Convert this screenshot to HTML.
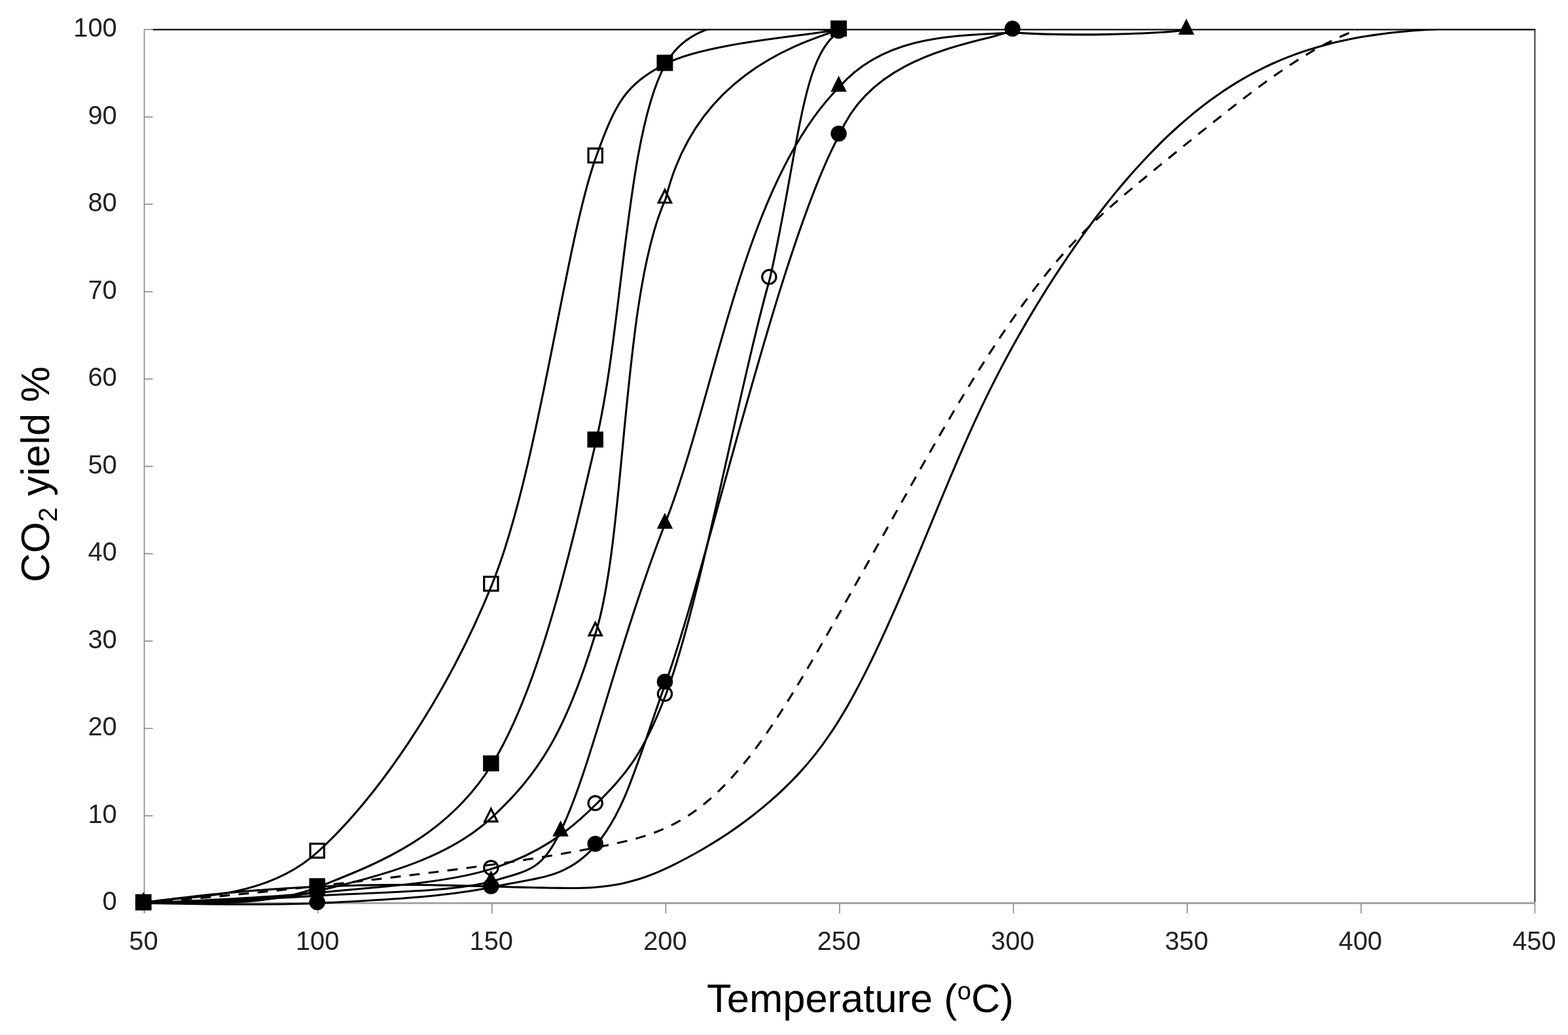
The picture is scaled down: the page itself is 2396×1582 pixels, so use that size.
<!DOCTYPE html>
<html lang="en"><head><meta charset="utf-8"><title>CO2 yield vs temperature</title>
<style>html,body{margin:0;padding:0;background:#fff;}body{width:2396px;height:1582px;overflow:hidden;}svg{display:block;}text{font-family:"Liberation Sans",sans-serif;}.tk{font-size:39.80px;fill:#222;}.ti{font-size:61.50px;fill:#000;}</style></head><body>
<svg xmlns="http://www.w3.org/2000/svg" width="2396" height="1582" viewBox="0 0 2396 1582">
<rect width="2396" height="1582" fill="#fff"/>
<defs><clipPath id="pa"><rect x="190.50" y="43.90" width="2184.90" height="1376.60"/></clipPath></defs>
<g><line x1="219.70" y1="1380.50" x2="2345.90" y2="1380.50" stroke="#a6a6a6" stroke-width="3.20"/><line x1="220.50" y1="44.20" x2="220.50" y2="1396.00" stroke="#868686" stroke-width="1.60"/><line x1="220.50" y1="1380.50" x2="233.50" y2="1380.50" stroke="#868686" stroke-width="1.60"/><line x1="220.50" y1="1246.97" x2="233.50" y2="1246.97" stroke="#868686" stroke-width="1.60"/><line x1="220.50" y1="1113.44" x2="233.50" y2="1113.44" stroke="#868686" stroke-width="1.60"/><line x1="220.50" y1="979.91" x2="233.50" y2="979.91" stroke="#868686" stroke-width="1.60"/><line x1="220.50" y1="846.38" x2="233.50" y2="846.38" stroke="#868686" stroke-width="1.60"/><line x1="220.50" y1="712.85" x2="233.50" y2="712.85" stroke="#868686" stroke-width="1.60"/><line x1="220.50" y1="579.32" x2="233.50" y2="579.32" stroke="#868686" stroke-width="1.60"/><line x1="220.50" y1="445.79" x2="233.50" y2="445.79" stroke="#868686" stroke-width="1.60"/><line x1="220.50" y1="312.26" x2="233.50" y2="312.26" stroke="#868686" stroke-width="1.60"/><line x1="220.50" y1="178.73" x2="233.50" y2="178.73" stroke="#868686" stroke-width="1.60"/><line x1="220.50" y1="45.20" x2="233.50" y2="45.20" stroke="#868686" stroke-width="1.60"/><line x1="220.50" y1="1380.50" x2="220.50" y2="1396.00" stroke="#868686" stroke-width="1.60"/><line x1="486.11" y1="1380.50" x2="486.11" y2="1396.00" stroke="#868686" stroke-width="1.60"/><line x1="751.73" y1="1380.50" x2="751.73" y2="1396.00" stroke="#868686" stroke-width="1.60"/><line x1="1017.34" y1="1380.50" x2="1017.34" y2="1396.00" stroke="#868686" stroke-width="1.60"/><line x1="1282.95" y1="1380.50" x2="1282.95" y2="1396.00" stroke="#868686" stroke-width="1.60"/><line x1="1548.56" y1="1380.50" x2="1548.56" y2="1396.00" stroke="#868686" stroke-width="1.60"/><line x1="1814.18" y1="1380.50" x2="1814.18" y2="1396.00" stroke="#868686" stroke-width="1.60"/><line x1="2079.79" y1="1380.50" x2="2079.79" y2="1396.00" stroke="#868686" stroke-width="1.60"/><line x1="2345.40" y1="1380.50" x2="2345.40" y2="1396.00" stroke="#868686" stroke-width="1.60"/><line x1="233.50" y1="45.20" x2="2346.30" y2="45.20" stroke="#222" stroke-width="2.40"/><line x1="2345.40" y1="45.20" x2="2345.40" y2="1378.90" stroke="#222" stroke-width="1.80"/></g>
<g fill="none" stroke="#000" stroke-width="3.10" stroke-linecap="butt" stroke-linejoin="round" clip-path="url(#pa)">
<path d="M219.10,1380.03 C224.43,1379.27 229.75,1378.52 235.08,1377.80 C240.40,1377.07 245.73,1376.36 251.05,1375.66 C256.38,1374.97 261.70,1374.29 267.03,1373.62 C272.35,1372.96 277.68,1372.32 283.00,1371.69 C288.33,1371.06 293.65,1370.44 298.98,1369.85 C304.31,1369.25 309.63,1368.67 314.96,1368.10 C320.28,1367.53 325.61,1366.99 330.93,1366.45 C336.26,1365.92 341.58,1365.40 346.91,1364.90 C352.23,1364.40 357.56,1363.91 362.88,1363.44 C368.21,1362.97 373.53,1362.51 378.86,1362.07 C384.18,1361.63 389.51,1361.21 394.84,1360.80 C400.16,1360.39 405.49,1360.00 410.81,1359.62 C416.14,1359.25 421.46,1358.89 426.79,1358.54 C432.11,1358.19 437.44,1357.86 442.76,1357.55 C448.09,1357.23 453.41,1356.93 458.74,1356.64 C464.06,1356.36 469.39,1356.09 474.72,1355.83 C480.04,1355.57 485.37,1355.33 490.69,1355.11 C496.02,1354.88 501.34,1354.67 506.67,1354.47 C511.99,1354.28 517.32,1354.10 522.64,1353.93 C527.97,1353.76 533.29,1353.61 538.62,1353.48 C543.94,1353.34 549.27,1353.22 554.59,1353.11 C559.92,1353.00 565.25,1352.91 570.57,1352.83 C575.90,1352.75 581.22,1352.68 586.55,1352.63 C591.87,1352.58 597.20,1352.54 602.52,1352.52 C607.85,1352.50 613.17,1352.49 618.50,1352.50 C623.82,1352.50 629.15,1352.53 634.47,1352.56 C639.80,1352.59 645.13,1352.64 650.45,1352.70 C655.78,1352.77 661.10,1352.84 666.43,1352.93 C671.75,1353.02 677.08,1353.12 682.40,1353.23 C687.73,1353.34 693.05,1353.45 698.38,1353.58 C703.70,1353.71 709.03,1353.84 714.35,1353.98 C719.68,1354.12 725.00,1354.26 730.33,1354.41 C735.66,1354.55 740.98,1354.70 746.31,1354.85 C751.63,1355.00 756.96,1355.16 762.28,1355.31 C767.61,1355.46 772.93,1355.60 778.26,1355.75 C783.58,1355.89 788.91,1356.04 794.23,1356.17 C799.56,1356.31 804.88,1356.44 810.21,1356.56 C815.54,1356.68 820.86,1356.80 826.19,1356.90 C831.51,1357.01 836.84,1357.10 842.16,1357.18 C847.49,1357.27 852.81,1357.34 858.14,1357.39 C863.46,1357.45 868.79,1357.48 874.11,1357.46 C879.44,1357.45 884.76,1357.38 890.09,1357.22 C895.41,1357.07 900.74,1356.84 906.07,1356.49 C911.39,1356.14 916.72,1355.67 922.04,1355.06 C927.37,1354.45 932.69,1353.70 938.02,1352.80 C943.34,1351.91 948.67,1350.86 953.99,1349.66 C959.32,1348.45 964.64,1347.09 969.97,1345.57 C975.29,1344.04 980.62,1342.35 985.95,1340.49 C991.27,1338.63 996.60,1336.60 1001.92,1334.39 C1007.25,1332.19 1012.57,1329.82 1017.90,1327.34 C1023.22,1324.85 1028.55,1322.24 1033.87,1319.55 C1039.20,1316.86 1044.52,1314.09 1049.85,1311.25 C1055.17,1308.41 1060.50,1305.50 1065.82,1302.50 C1071.15,1299.50 1076.48,1296.42 1081.80,1293.24 C1087.13,1290.06 1092.45,1286.79 1097.78,1283.42 C1103.10,1280.05 1108.43,1276.57 1113.75,1272.98 C1119.08,1269.39 1124.40,1265.69 1129.73,1261.87 C1135.05,1258.05 1140.38,1254.10 1145.70,1250.03 C1151.03,1245.95 1156.36,1241.74 1161.68,1237.39 C1167.01,1233.04 1172.33,1228.55 1177.66,1223.91 C1182.98,1219.27 1188.31,1214.49 1193.63,1209.50 C1198.96,1204.52 1204.28,1199.34 1209.61,1193.92 C1214.93,1188.50 1220.26,1182.84 1225.58,1176.89 C1230.91,1170.94 1236.23,1164.70 1241.56,1158.13 C1246.89,1151.55 1252.21,1144.64 1257.54,1137.35 C1262.86,1130.06 1268.19,1122.38 1273.51,1114.28 C1278.84,1106.18 1284.16,1097.63 1289.49,1088.64 C1294.81,1079.65 1300.14,1070.23 1305.46,1060.41 C1310.79,1050.60 1316.11,1040.40 1321.44,1029.86 C1326.77,1019.31 1332.09,1008.43 1337.42,997.25 C1342.74,986.08 1348.07,974.61 1353.39,962.89 C1358.72,951.18 1364.04,939.22 1369.37,927.06 C1374.69,914.90 1380.02,902.54 1385.34,890.03 C1390.67,877.52 1395.99,864.85 1401.32,852.08 C1406.64,839.32 1411.97,826.45 1417.30,813.55 C1422.62,800.66 1427.95,787.74 1433.27,774.87 C1438.60,762.00 1443.92,749.19 1449.25,736.50 C1454.57,723.81 1459.90,711.26 1465.22,698.90 C1470.55,686.55 1475.87,674.40 1481.20,662.54 C1486.52,650.67 1491.85,639.11 1497.18,627.84 C1502.50,616.58 1507.83,605.61 1513.15,594.92 C1518.48,584.22 1523.80,573.80 1529.13,563.62 C1534.45,553.44 1539.78,543.52 1545.10,533.81 C1550.43,524.11 1555.75,514.63 1561.08,505.36 C1566.40,496.08 1571.73,487.01 1577.05,478.11 C1582.38,469.21 1587.71,460.49 1593.03,451.93 C1598.36,443.36 1603.68,434.95 1609.01,426.69 C1614.33,418.43 1619.66,410.32 1624.98,402.36 C1630.31,394.40 1635.63,386.59 1640.96,378.93 C1646.28,371.27 1651.61,363.76 1656.93,356.40 C1662.26,349.04 1667.59,341.82 1672.91,334.76 C1678.24,327.69 1683.56,320.77 1688.89,314.00 C1694.21,307.23 1699.54,300.61 1704.86,294.13 C1710.19,287.65 1715.51,281.31 1720.84,275.12 C1726.16,268.94 1731.49,262.89 1736.81,256.99 C1742.14,251.09 1747.46,245.33 1752.79,239.72 C1758.12,234.10 1763.44,228.63 1768.77,223.30 C1774.09,217.97 1779.42,212.78 1784.74,207.74 C1790.07,202.69 1795.39,197.78 1800.72,193.02 C1806.04,188.25 1811.37,183.62 1816.69,179.13 C1822.02,174.65 1827.34,170.30 1832.67,166.08 C1838.00,161.87 1843.32,157.80 1848.65,153.86 C1853.97,149.93 1859.30,146.13 1864.62,142.46 C1869.95,138.80 1875.27,135.27 1880.60,131.88 C1885.92,128.48 1891.25,125.23 1896.57,122.10 C1901.90,118.97 1907.22,115.97 1912.55,113.10 C1917.87,110.22 1923.20,107.47 1928.53,104.84 C1933.85,102.20 1939.18,99.69 1944.50,97.28 C1949.83,94.88 1955.15,92.59 1960.48,90.40 C1965.80,88.22 1971.13,86.14 1976.45,84.16 C1981.78,82.18 1987.10,80.30 1992.43,78.52 C1997.75,76.73 2003.08,75.04 2008.41,73.44 C2013.73,71.84 2019.06,70.32 2024.38,68.89 C2029.71,67.46 2035.03,66.11 2040.36,64.84 C2045.68,63.57 2051.01,62.38 2056.33,61.25 C2061.66,60.13 2066.98,59.08 2072.31,58.09 C2077.63,57.10 2082.96,56.18 2088.28,55.32 C2093.61,54.45 2098.94,53.65 2104.26,52.90 C2109.59,52.15 2114.91,51.45 2120.24,50.80 C2125.56,50.16 2130.89,49.56 2136.21,49.01 C2141.54,48.46 2146.86,47.96 2152.19,47.50 C2157.51,47.04 2162.84,46.62 2168.16,46.25 C2173.49,45.87 2178.82,45.53 2184.14,45.24 C2189.47,44.94 2194.79,44.67 2200.12,44.45 C2205.44,44.22 2210.77,44.02 2216.09,43.86 C2221.42,43.69 2226.74,43.56 2232.07,43.45 C2237.39,43.35 2242.72,43.27 2248.04,43.21 C2253.37,43.15 2258.69,43.12 2264.02,43.11 C2269.35,43.09 2274.67,43.10 2280.00,43.12 C2285.32,43.15 2290.65,43.19 2295.97,43.24 C2301.30,43.30 2306.62,43.37 2311.95,43.45 C2317.27,43.53 2322.60,43.61 2327.92,43.71 C2333.25,43.81 2338.57,43.91 2343.90,44.02"/>
<path d="M219.10,1379.99 C224.43,1379.57 229.77,1379.15 235.10,1378.72 C240.43,1378.29 245.77,1377.85 251.10,1377.40 C256.43,1376.96 261.76,1376.51 267.10,1376.06 C272.43,1375.60 277.76,1375.14 283.10,1374.67 C288.43,1374.20 293.76,1373.72 299.10,1373.24 C304.43,1372.76 309.76,1372.28 315.09,1371.78 C320.43,1371.29 325.76,1370.79 331.09,1370.29 C336.43,1369.79 341.76,1369.28 347.09,1368.76 C352.43,1368.25 357.76,1367.73 363.09,1367.20 C368.43,1366.68 373.76,1366.15 379.09,1365.61 C384.42,1365.08 389.76,1364.54 395.09,1363.99 C400.42,1363.44 405.76,1362.89 411.09,1362.34 C416.42,1361.78 421.76,1361.22 427.09,1360.66 C432.42,1360.09 437.75,1359.52 443.09,1358.95 C448.42,1358.38 453.75,1357.80 459.09,1357.22 C464.42,1356.64 469.75,1356.05 475.09,1355.46 C480.42,1354.87 485.75,1354.27 491.09,1353.68 C496.42,1353.08 501.75,1352.47 507.08,1351.87 C512.42,1351.26 517.75,1350.65 523.08,1350.04 C528.42,1349.43 533.75,1348.81 539.08,1348.19 C544.42,1347.57 549.75,1346.95 555.08,1346.32 C560.41,1345.69 565.75,1345.06 571.08,1344.43 C576.41,1343.80 581.75,1343.16 587.08,1342.52 C592.41,1341.88 597.75,1341.24 603.08,1340.60 C608.41,1339.95 613.75,1339.30 619.08,1338.65 C624.41,1338.00 629.74,1337.35 635.08,1336.70 C640.41,1336.04 645.74,1335.38 651.08,1334.72 C656.41,1334.06 661.74,1333.40 667.08,1332.73 C672.41,1332.06 677.74,1331.39 683.08,1330.71 C688.41,1330.03 693.74,1329.35 699.07,1328.65 C704.41,1327.96 709.74,1327.27 715.07,1326.56 C720.41,1325.86 725.74,1325.14 731.07,1324.42 C736.41,1323.70 741.74,1322.97 747.07,1322.23 C752.40,1321.49 757.74,1320.74 763.07,1319.98 C768.40,1319.23 773.74,1318.46 779.07,1317.67 C784.40,1316.89 789.74,1316.10 795.07,1315.29 C800.40,1314.49 805.74,1313.67 811.07,1312.84 C816.40,1312.00 821.73,1311.16 827.07,1310.30 C832.40,1309.44 837.73,1308.56 843.07,1307.67 C848.40,1306.78 853.73,1305.88 859.07,1304.95 C864.40,1304.03 869.73,1303.09 875.06,1302.13 C880.40,1301.18 885.73,1300.20 891.06,1299.21 C896.40,1298.21 901.73,1297.20 907.06,1296.17 C912.40,1295.14 917.73,1294.09 923.06,1293.01 C928.40,1291.94 933.73,1290.85 939.06,1289.71 C944.39,1288.57 949.73,1287.37 955.06,1286.10 C960.39,1284.82 965.73,1283.46 971.06,1281.99 C976.39,1280.51 981.73,1278.92 987.06,1277.19 C992.39,1275.45 997.72,1273.56 1003.06,1271.49 C1008.39,1269.42 1013.72,1267.18 1019.06,1264.71 C1024.39,1262.25 1029.72,1259.58 1035.06,1256.66 C1040.39,1253.74 1045.72,1250.57 1051.06,1247.12 C1056.39,1243.68 1061.72,1239.95 1067.05,1235.93 C1072.39,1231.90 1077.72,1227.59 1083.05,1222.98 C1088.39,1218.38 1093.72,1213.48 1099.05,1208.31 C1104.39,1203.13 1109.72,1197.66 1115.05,1191.92 C1120.38,1186.17 1125.72,1180.14 1131.05,1173.84 C1136.38,1167.53 1141.72,1160.95 1147.05,1154.09 C1152.38,1147.23 1157.72,1140.09 1163.05,1132.69 C1168.38,1125.28 1173.72,1117.61 1179.05,1109.71 C1184.38,1101.81 1189.71,1093.69 1195.05,1085.36 C1200.38,1077.04 1205.71,1068.52 1211.05,1059.85 C1216.38,1051.18 1221.71,1042.35 1227.05,1033.39 C1232.38,1024.44 1237.71,1015.37 1243.04,1006.21 C1248.38,997.05 1253.71,987.81 1259.04,978.52 C1264.38,969.23 1269.71,959.89 1275.04,950.53 C1280.38,941.17 1285.71,931.78 1291.04,922.37 C1296.38,912.96 1301.71,903.53 1307.04,894.07 C1312.37,884.61 1317.71,875.12 1323.04,865.62 C1328.37,856.11 1333.71,846.58 1339.04,837.03 C1344.37,827.49 1349.71,817.93 1355.04,808.38 C1360.37,798.82 1365.70,789.27 1371.04,779.73 C1376.37,770.19 1381.70,760.66 1387.04,751.17 C1392.37,741.67 1397.70,732.20 1403.04,722.78 C1408.37,713.35 1413.70,703.97 1419.04,694.64 C1424.37,685.32 1429.70,676.04 1435.03,666.84 C1440.37,657.64 1445.70,648.51 1451.03,639.46 C1456.37,630.41 1461.70,621.44 1467.03,612.57 C1472.37,603.70 1477.70,594.92 1483.03,586.26 C1488.36,577.59 1493.70,569.03 1499.03,560.59 C1504.36,552.15 1509.70,543.82 1515.03,535.62 C1520.36,527.43 1525.70,519.35 1531.03,511.42 C1536.36,503.48 1541.70,495.68 1547.03,488.03 C1552.36,480.38 1557.69,472.87 1563.03,465.51 C1568.36,458.16 1573.69,450.96 1579.03,443.93 C1584.36,436.90 1589.69,430.03 1595.03,423.33 C1600.36,416.64 1605.69,410.12 1611.03,403.78 C1616.36,397.45 1621.69,391.29 1627.02,385.33 C1632.36,379.37 1637.69,373.60 1643.02,368.00 C1648.36,362.40 1653.69,356.96 1659.02,351.67 C1664.36,346.38 1669.69,341.23 1675.02,336.20 C1680.35,331.18 1685.69,326.27 1691.02,321.46 C1696.35,316.66 1701.69,311.95 1707.02,307.31 C1712.35,302.68 1717.69,298.12 1723.02,293.62 C1728.35,289.11 1733.69,284.66 1739.02,280.24 C1744.35,275.82 1749.68,271.42 1755.02,267.04 C1760.35,262.65 1765.68,258.27 1771.02,253.90 C1776.35,249.53 1781.68,245.17 1787.02,240.82 C1792.35,236.47 1797.68,232.13 1803.01,227.80 C1808.35,223.48 1813.68,219.16 1819.01,214.86 C1824.35,210.55 1829.68,206.26 1835.01,201.99 C1840.35,197.71 1845.68,193.45 1851.01,189.20 C1856.35,184.96 1861.68,180.73 1867.01,176.52 C1872.34,172.30 1877.68,168.11 1883.01,163.94 C1888.34,159.77 1893.68,155.63 1899.01,151.53 C1904.34,147.43 1909.68,143.37 1915.01,139.36 C1920.34,135.35 1925.67,131.38 1931.01,127.48 C1936.34,123.58 1941.67,119.75 1947.01,115.98 C1952.34,112.21 1957.67,108.52 1963.01,104.91 C1968.34,101.30 1973.67,97.78 1979.01,94.35 C1984.34,90.92 1989.67,87.58 1995.00,84.35 C2000.34,81.13 2005.67,78.00 2011.00,75.00 C2016.34,72.00 2021.67,69.11 2027.00,66.35 C2032.34,63.60 2037.67,60.97 2043.00,58.48 C2048.33,55.99 2053.67,53.64 2059.00,51.45 C2064.33,49.25 2069.67,47.21 2075.00,45.33" stroke-dasharray="15.8 13.4"/>
<path d="M220.50,1380.50 C264.77,1380.50 397.57,1384.60 486.11,1380.50 C574.65,1376.40 680.89,1370.81 751.73,1355.92 C822.56,1341.02 866.82,1343.23 911.09,1291.12 C955.36,1239.02 971.84,1170.21 1017.34,1043.30 C1082.40,861.83 1191.02,373.30 1282.95,205.65 C1339.20,72.49 1513.16,65.97 1548.56,45.20"/>
<path d="M220.50,1380.50 C264.77,1377.83 397.57,1373.25 486.11,1364.48 C574.65,1355.70 680.89,1350.44 751.73,1327.86 C822.56,1305.28 866.82,1273.31 911.09,1229.00 C955.36,1184.69 982.26,1154.54 1017.34,1062.00 C1069.13,925.38 1128.73,594.13 1176.71,424.75 C1220.50,231.03 1225.10,82.19 1282.95,48.40"/>
<path d="M220.50,1380.50 C264.77,1378.61 397.57,1374.75 486.11,1369.15 C574.65,1363.55 689.75,1363.80 751.73,1346.90 C813.70,1330.00 829.14,1327.38 857.97,1267.74 C902.24,1176.17 944.13,985.78 1017.34,797.48 C1095.00,597.74 1136.24,279.22 1282.95,132.50 C1351.70,54.16 1455.01,54.60 1548.56,49.87 C1634.50,55.73 1775.51,52.12 1814.18,45.20"/>
<path d="M220.50,1380.50 C264.77,1377.38 397.57,1383.66 486.11,1361.81 C574.65,1339.95 680.89,1315.54 751.73,1249.37 C822.56,1183.21 864.13,1120.98 911.09,964.81 C957.24,811.36 950.13,450.98 1017.34,303.51 C1063.99,112.03 1223.89,65.62 1282.95,45.20"/>
<path d="M220.50,1380.50 C264.77,1376.40 397.57,1391.30 486.11,1355.92 C574.65,1320.54 680.89,1281.99 751.73,1168.21 C822.56,1054.43 869.48,852.34 911.09,673.24 C952.58,494.67 957.03,203.72 1017.34,97.44 C1077.37,-8.36 1238.68,53.91 1282.95,45.20"/>
<path d="M220.50,1380.50 C264.77,1367.36 397.57,1382.82 486.11,1301.68 C574.65,1220.54 680.17,1070.48 751.73,893.67 C823.56,716.18 863.13,371.49 911.09,239.05 C941.24,155.82 955.36,129.74 1017.34,97.44 C1079.31,65.13 1238.68,53.91 1282.95,45.20"/>
</g>
<g fill="#000">
<circle cx="219.10" cy="1379.10" r="12.25"/>
<circle cx="484.71" cy="1379.10" r="12.25"/>
<circle cx="750.33" cy="1354.52" r="12.25"/>
<circle cx="909.69" cy="1289.72" r="12.25"/>
<circle cx="1015.94" cy="1041.90" r="12.25"/>
<circle cx="1281.55" cy="204.25" r="12.25"/>
<circle cx="1547.16" cy="43.80" r="12.25"/>
<circle cx="219.10" cy="1379.10" r="10.65" fill="none" stroke="#000" stroke-width="3.20"/>
<circle cx="484.71" cy="1363.08" r="10.65" fill="none" stroke="#000" stroke-width="3.20"/>
<circle cx="750.33" cy="1326.46" r="10.65" fill="none" stroke="#000" stroke-width="3.20"/>
<circle cx="909.69" cy="1227.60" r="10.65" fill="none" stroke="#000" stroke-width="3.20"/>
<circle cx="1015.94" cy="1060.60" r="10.65" fill="none" stroke="#000" stroke-width="3.20"/>
<circle cx="1175.31" cy="423.35" r="10.65" fill="none" stroke="#000" stroke-width="3.20"/>
<circle cx="1281.55" cy="47.00" r="10.65" fill="none" stroke="#000" stroke-width="3.20"/>
<path d="M219.10,1363.85 L231.35,1388.35 L206.85,1388.35 Z"/>
<path d="M484.71,1352.50 L496.96,1377.00 L472.46,1377.00 Z"/>
<path d="M750.33,1330.25 L762.58,1354.75 L738.08,1354.75 Z"/>
<path d="M856.57,1254.09 L868.82,1278.59 L844.32,1278.59 Z"/>
<path d="M1015.94,783.83 L1028.19,808.33 L1003.69,808.33 Z"/>
<path d="M1281.55,115.85 L1293.80,140.35 L1269.30,140.35 Z"/>
<path d="M1812.78,28.55 L1825.03,53.05 L1800.53,53.05 Z"/>
<path d="M219.10,1367.43 L228.76,1386.75 L209.44,1386.75 Z" fill="none" stroke="#000" stroke-width="3.20" stroke-linejoin="miter"/>
<path d="M484.71,1348.74 L494.37,1368.06 L475.05,1368.06 Z" fill="none" stroke="#000" stroke-width="3.20" stroke-linejoin="miter"/>
<path d="M750.33,1236.31 L759.98,1255.62 L740.67,1255.62 Z" fill="none" stroke="#000" stroke-width="3.20" stroke-linejoin="miter"/>
<path d="M909.69,951.75 L919.35,971.06 L900.03,971.06 Z" fill="none" stroke="#000" stroke-width="3.20" stroke-linejoin="miter"/>
<path d="M1015.94,290.44 L1025.60,309.76 L1006.28,309.76 Z" fill="none" stroke="#000" stroke-width="3.20" stroke-linejoin="miter"/>
<rect x="206.85" y="1366.85" width="24.50" height="24.50"/>
<rect x="472.46" y="1342.27" width="24.50" height="24.50"/>
<rect x="738.08" y="1154.56" width="24.50" height="24.50"/>
<rect x="897.44" y="659.59" width="24.50" height="24.50"/>
<rect x="1003.69" y="83.79" width="24.50" height="24.50"/>
<rect x="1269.30" y="31.55" width="24.50" height="24.50"/>
<rect x="208.45" y="1368.45" width="21.30" height="21.30" fill="none" stroke="#000" stroke-width="3.20"/>
<rect x="474.06" y="1289.63" width="21.30" height="21.30" fill="none" stroke="#000" stroke-width="3.20"/>
<rect x="739.68" y="881.62" width="21.30" height="21.30" fill="none" stroke="#000" stroke-width="3.20"/>
<rect x="899.04" y="227.00" width="21.30" height="21.30" fill="none" stroke="#000" stroke-width="3.20"/>
<rect x="1005.29" y="85.39" width="21.30" height="21.30" fill="none" stroke="#000" stroke-width="3.20"/>
<rect x="1270.90" y="33.15" width="21.30" height="21.30" fill="none" stroke="#000" stroke-width="3.20"/>
</g>
<g class="tk" text-anchor="end">
<text x="178.70" y="1391.40">0</text>
<text x="178.70" y="1257.87">10</text>
<text x="178.70" y="1124.34">20</text>
<text x="178.70" y="990.81">30</text>
<text x="178.70" y="857.28">40</text>
<text x="178.70" y="723.75">50</text>
<text x="178.70" y="590.22">60</text>
<text x="178.70" y="456.69">70</text>
<text x="178.70" y="323.16">80</text>
<text x="178.70" y="189.63">90</text>
<text x="178.70" y="56.10">100</text>
</g>
<g class="tk" text-anchor="middle">
<text x="219.50" y="1452.00">50</text>
<text x="485.11" y="1452.00">100</text>
<text x="750.73" y="1452.00">150</text>
<text x="1016.34" y="1452.00">200</text>
<text x="1281.95" y="1452.00">250</text>
<text x="1547.56" y="1452.00">300</text>
<text x="1813.18" y="1452.00">350</text>
<text x="2078.79" y="1452.00">400</text>
<text x="2344.40" y="1452.00">450</text>
</g>
<text class="ti" text-anchor="middle" x="1314.50" y="1546.70">Temperature (<tspan font-size="38.13" dy="-19.00">o</tspan><tspan dy="19.00">C)</tspan></text>
<text class="ti" text-anchor="middle" transform="translate(75.20,725.00) rotate(-90)">CO<tspan font-size="39.98" dy="12.00">2</tspan><tspan dy="-12.00"> yield %</tspan></text>
</svg></body></html>
